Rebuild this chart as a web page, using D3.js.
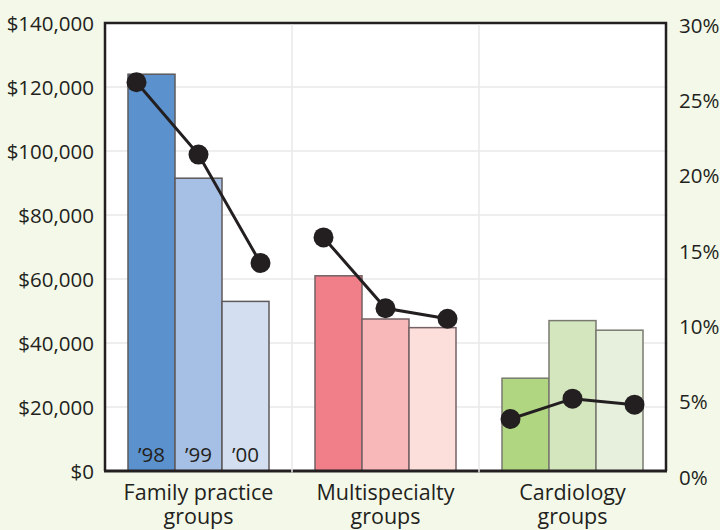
<!DOCTYPE html>
<html lang="en">
<head>
<meta charset="UTF-8">
<title>Chart</title>
<style>
  body { margin: 0; background: #f3f8e8; }
  svg { display: block; font-family: "Open Sans", sans-serif; }
</style>
</head>
<body>
<script src="https://cdn.jsdelivr.net/npm/d3@7/dist/d3.min.js"></script>
<script>
const W = 720, H = 530;

// data
const groups = ["Family practice groups", "Multispecialty groups", "Cardiology groups"];
const groupLines = [["Family practice", "groups"], ["Multispecialty", "groups"], ["Cardiology", "groups"]];
const years = ["’98", "’99", "’00"];
const dollars = [
  [124000, 91500, 53000],
  [61000, 47500, 44800],
  [29000, 47000, 44000]
];
const percents = [
  [26.2, 21.4, 14.2],
  [15.9, 11.2, 10.5],
  [3.85, 5.2, 4.8]
];
const leftTicks = [0, 20000, 40000, 60000, 80000, 100000, 120000, 140000];
const rightTicks = [0, 5, 10, 15, 20, 25, 30];
const colors = [
  ["#5b92cd", "#a6bfe4", "#d3dff0"],
  ["#f17f89", "#f8b8b9", "#fcdedb"],
  ["#b1d682", "#d3e6bd", "#e6f0dc"]
];

const m = {left: 105, right: 54, top: 23, bottom: 59};
const x0 = m.left, x1 = W - m.right, yTop = m.top, yBot = H - m.bottom;

const svg = d3.select("body").append("svg")
  .attr("width", W).attr("height", H);

const x = d3.scaleBand().domain(groups).range([x0, x1]);
const xs = d3.scaleBand().domain(years).range([23, x.bandwidth() - 23]);
// dots are spread a bit wider than the bars
const xp = d3.scalePoint().domain(years).range([x.bandwidth() / 2 - 62, x.bandwidth() / 2 + 62]);
const y = d3.scaleLinear().domain([0, 140000]).range([yBot, yTop]);
const y2 = d3.scaleLinear().domain([0, 30]).range([yBot + 6, yTop + 2]);

// plot background
svg.append("rect").attr("x", x0).attr("y", yTop)
  .attr("width", x1 - x0).attr("height", yBot - yTop).attr("fill", "#fff");

// horizontal grid
svg.append("g").selectAll("line").data(leftTicks.slice(1, -1)).join("line")
  .attr("x1", x0).attr("x2", x1 + 2)
  .attr("y1", d => y(d)).attr("y2", d => y(d))
  .attr("stroke", "#e8e8e8").attr("stroke-width", 1.5);

// bars
const g = svg.append("g").selectAll("g").data(groups).join("g")
  .attr("transform", d => `translate(${x(d)},0)`);

g.selectAll("rect").data((d, i) => dollars[i].map((v, j) => ({v, j, i}))).join("rect")
  .attr("x", d => xs(years[d.j]))
  .attr("y", d => y(d.v))
  .attr("width", xs.bandwidth())
  .attr("height", d => yBot - y(d.v))
  .attr("fill", d => colors[d.i][d.j])
  .attr("stroke", d => ["#5e5a5b", "#746264", "#7a7a70"][d.i])
  .attr("stroke-width", 1.5);

// year labels in first group
svg.append("g").selectAll("text").data(years).join("text")
  .attr("x", d => x(groups[0]) + xs(d) + xs.bandwidth() / 2)
  .attr("y", yBot - 9)
  .attr("text-anchor", "middle")
  .attr("font-size", 20.5)
  .attr("fill", "#231f20")
  .text(d => d);

// frame
svg.append("path")
  .attr("d", `M${x0},${yBot}V${yTop}H${x1}V${yBot}`)
  .attr("fill", "none").attr("stroke", "#231f20").attr("stroke-width", 2.5);
svg.append("line").attr("x1", x0 - 1).attr("x2", x1 + 1)
  .attr("y1", yBot).attr("y2", yBot)
  .attr("stroke", "#231f20").attr("stroke-width", 3);

// vertical grid at group boundaries
svg.append("g").selectAll("line").data(groups.slice(1)).join("line")
  .attr("x1", d => x(d)).attr("x2", d => x(d))
  .attr("y1", yTop + 1.5).attr("y2", yBot + 1.5)
  .attr("stroke", "#e8e8e8").attr("stroke-width", 1.5);

// lines + dots
const line = d3.line()
  .x(d => x(d.g) + xp(d.yr))
  .y(d => y2(d.p));

groups.forEach((grp, i) => {
  const pts = percents[i].map((p, j) => ({g: grp, yr: years[j], p}));
  svg.append("path").datum(pts)
    .attr("d", line)
    .attr("fill", "none").attr("stroke", "#231f20").attr("stroke-width", 3);
  svg.append("g").selectAll("circle").data(pts).join("circle")
    .attr("cx", d => x(d.g) + xp(d.yr))
    .attr("cy", d => y2(d.p))
    .attr("r", 10)
    .attr("fill", "#231f20");
});

// left axis
const leftAxis = svg.append("g")
  .attr("transform", `translate(${x0 - 8},0)`)
  .call(d3.axisLeft(y).tickValues(leftTicks).tickSize(0)
    .tickFormat(d => "$" + d3.format(",")(d)));
leftAxis.select(".domain").remove();
leftAxis.selectAll("text").attr("font-size", 20.5).attr("fill", "#231f20")
  .attr("font-family", "Open Sans, sans-serif").attr("dy", "0.35em");

// right axis
const rightAxis = svg.append("g")
  .attr("transform", `translate(${x1 + 10},0)`)
  .call(d3.axisRight(y2).tickValues(rightTicks).tickSize(0).tickFormat(d => d + "%"));
rightAxis.select(".domain").remove();
rightAxis.selectAll("text").attr("font-size", 20.5).attr("fill", "#231f20")
  .attr("font-family", "Open Sans, sans-serif").attr("dy", "0.35em");

// category labels
svg.append("g").selectAll("text").data(groups).join("text")
  .attr("x", d => x(d) + x.bandwidth() / 2)
  .attr("y", yBot + 29)
  .attr("text-anchor", "middle")
  .attr("font-size", 21.5)
  .attr("fill", "#231f20")
  .each(function(d, i) {
    d3.select(this).selectAll("tspan").data(groupLines[i]).join("tspan")
      .attr("x", x(d) + x.bandwidth() / 2)
      .attr("dy", (t, k) => k === 0 ? 0 : 24)
      .text(t => t);
  });
</script>
</body>
</html>
